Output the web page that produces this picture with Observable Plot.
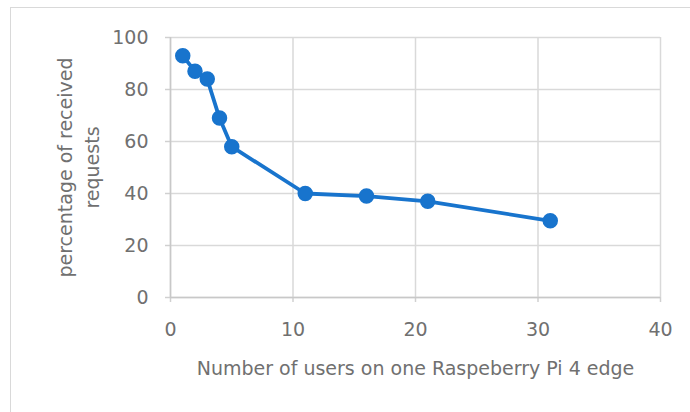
<!DOCTYPE html>
<html>
<head>
<meta charset="utf-8">
<script src="https://cdn.jsdelivr.net/npm/d3@7"></script>
<script src="https://cdn.jsdelivr.net/npm/@observablehq/plot@0.6"></script>
<style>
  html, body { margin: 0; padding: 0; background: #fff; }
  #wrap { position: relative; width: 690px; height: 412px; overflow: hidden; }
  #border { position: absolute; left: 10px; top: 7px; width: 700px; height: 420px; border: 1px solid #d9d9d9; box-sizing: border-box; }
  #chart { position: absolute; left: 0; top: 0; }
</style>
</head>
<body>
<div id="wrap"><div id="border"></div><div id="chart"></div></div>
<script>
const users = [1, 2, 3, 4, 5, 11, 16, 21, 31];
const received = [93, 87, 84, 69, 58, 40, 39, 37, 29.5];
const xTicks = [0, 10, 20, 30, 40];
const yTicks = [0, 20, 40, 60, 80, 100];
const xTitle = ["Number of users on one Raspeberry Pi 4 edge"];
const yTitle = ["percentage of received\nrequests"];

const data = users.map((u, i) => ({users: u, received: received[i]}));
const blue = "#1874cd";
const textColor = "#707070";

const chart = Plot.plot({
  width: 690,
  height: 412,
  marginLeft: 170,
  marginRight: 30,
  marginTop: 37,
  marginBottom: 115,
  style: {fontFamily: "'DejaVu Sans', sans-serif", fontSize: "19px", background: "transparent"},
  x: {domain: [0, 40], axis: null},
  y: {domain: [0, 100], axis: null},
  marks: [
    Plot.gridY(yTicks, {stroke: "#d9d9d9", strokeOpacity: 1, strokeWidth: 1.5}),
    Plot.gridX(xTicks, {stroke: "#d9d9d9", strokeOpacity: 1, strokeWidth: 1.5}),
    Plot.axisY(yTicks, {tickSize: 5, tickPadding: 17, stroke: "#d0d0d0", strokeWidth: 1.5, fill: textColor, fontSize: 19, label: null}),
    Plot.axisX(xTicks, {tickSize: 5, tickPadding: 20, stroke: "#d0d0d0", strokeWidth: 1.5, fill: textColor, fontSize: 19, label: null}),
    Plot.ruleX([0], {stroke: "#c8c8c8", strokeWidth: 1.5}),
    Plot.ruleY([0], {stroke: "#c8c8c8", strokeWidth: 1.5}),
    Plot.line(data, {x: "users", y: "received", stroke: blue, strokeWidth: 3.8}),
    Plot.dot(data, {x: "users", y: "received", r: 7, fill: blue, stroke: blue}),
    Plot.text(xTitle, {frameAnchor: "bottom", dy: 71, lineAnchor: "middle", textAnchor: "middle", fill: textColor, fontSize: 19}),
    Plot.text(yTitle, {frameAnchor: "left", dx: -94, rotate: -90, textAnchor: "middle", lineAnchor: "middle", lineHeight: 1.42, fill: textColor, fontSize: 19})
  ]
});
document.getElementById("chart").appendChild(chart);
</script>
</body>
</html>
